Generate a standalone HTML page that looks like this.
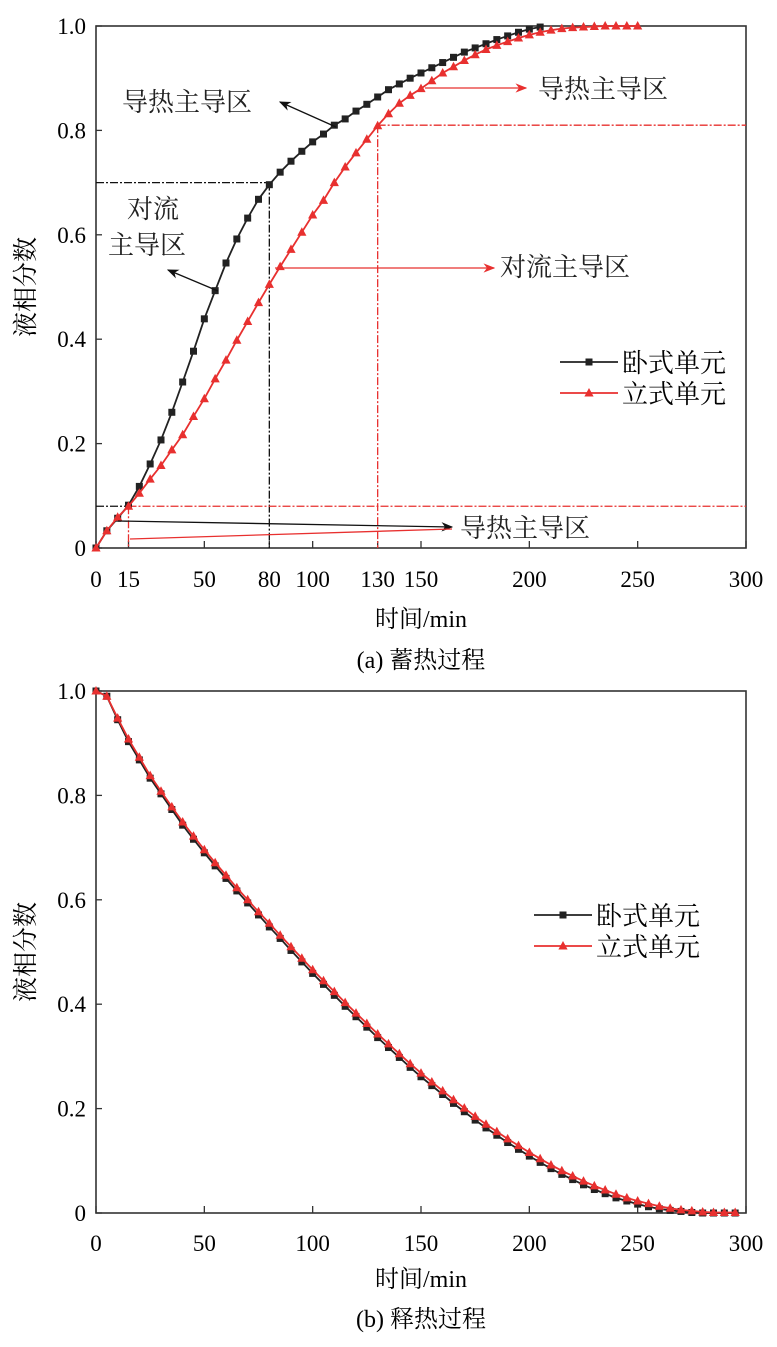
<!DOCTYPE html>
<html><head><meta charset="utf-8"><style>
html,body{margin:0;padding:0;background:#fff;}
svg{display:block;font-family:"Liberation Serif","Noto Serif CJK SC",serif;}
</style></head><body>
<svg id="fig" width="777" height="1347" viewBox="0 0 777 1347" xmlns="http://www.w3.org/2000/svg">
<defs>
<marker id="ak" viewBox="0 0 10 10" refX="9" refY="5" markerWidth="9" markerHeight="9" orient="auto-start-reverse"><path d="M0,1 L10,5 L0,9 L3,5 Z" fill="#111"/></marker>
<marker id="ar" viewBox="0 0 10 10" refX="9" refY="5" markerWidth="9" markerHeight="9" orient="auto-start-reverse"><path d="M0,1 L10,5 L0,9 L3,5 Z" fill="#e8302f"/></marker>
</defs>
<g id="pa"></g>
<g id="pb"></g>
</svg>
<script>
// ---- Chart (a) data ----
const aTimesH = [0,5,10,15,20,25,30,35,40,45,50,55,60,65,70,75,80,85,90,95,100,105,110,115,120,125,130,135,140,145,150,155,160,165,170,175,180,185,190,195,200,205];
const aHoriz = [0,0.033,0.057,0.082,0.118,0.161,0.207,0.26,0.318,0.377,0.439,0.493,0.546,0.592,0.632,0.668,0.696,0.72,0.741,0.76,0.778,0.793,0.81,0.822,0.837,0.85,0.864,0.878,0.889,0.90,0.91,0.92,0.93,0.94,0.95,0.958,0.966,0.974,0.981,0.988,0.994,0.998];
const aTimesV = [0,5,10,15,20,25,30,35,40,45,50,55,60,65,70,75,80,85,90,95,100,105,110,115,120,125,130,135,140,145,150,155,160,165,170,175,180,185,190,195,200,205,210,215,220,225,230,235,240,245,250];
const aVert = [0,0.033,0.059,0.08,0.105,0.132,0.158,0.188,0.217,0.252,0.286,0.324,0.36,0.398,0.434,0.47,0.505,0.539,0.572,0.605,0.638,0.666,0.7,0.73,0.757,0.783,0.809,0.832,0.852,0.867,0.88,0.895,0.91,0.922,0.934,0.945,0.955,0.963,0.97,0.977,0.983,0.988,0.992,0.995,0.997,0.998,0.999,1,1,1,1];
const aXTicks = [0,15,50,80,100,130,150,200,250,300];
const yTicks = [0,0.2,0.4,0.6,0.8,1.0];
const yTickLabels = ["0","0.2","0.4","0.6","0.8","1.0"];
// ---- Chart (b) data ----
const bTimes = [0,5,10,15,20,25,30,35,40,45,50,55,60,65,70,75,80,85,90,95,100,105,110,115,120,125,130,135,140,145,150,155,160,165,170,175,180,185,190,195,200,205,210,215,220,225,230,235,240,245,250,255,260,265,270,275,280,285,290,295];
const bHoriz = [1.0,0.99,0.945,0.903,0.868,0.833,0.803,0.773,0.743,0.716,0.69,0.665,0.641,0.617,0.594,0.571,0.548,0.526,0.503,0.481,0.459,0.438,0.417,0.396,0.376,0.356,0.336,0.317,0.298,0.279,0.261,0.244,0.227,0.21,0.194,0.178,0.163,0.149,0.135,0.122,0.109,0.097,0.085,0.074,0.064,0.054,0.045,0.037,0.029,0.023,0.017,0.012,0.008,0.005,0.003,0.001,0,0,0,0];
const bVert = [1.0,0.99,0.948,0.908,0.873,0.838,0.808,0.778,0.749,0.722,0.696,0.671,0.647,0.623,0.6,0.577,0.555,0.532,0.51,0.488,0.466,0.445,0.424,0.403,0.383,0.363,0.343,0.324,0.305,0.286,0.268,0.251,0.234,0.217,0.201,0.185,0.17,0.156,0.142,0.129,0.116,0.104,0.092,0.081,0.071,0.061,0.052,0.044,0.036,0.029,0.023,0.018,0.013,0.009,0.006,0.004,0.002,0.001,0.001,0.001];
const bXTicks = [0,50,100,150,200,250,300];

const NS="http://www.w3.org/2000/svg";
function mk(parent,tag,attrs,text){const e=document.createElementNS(NS,tag);for(const k in attrs)e.setAttribute(k,attrs[k]);if(text!==undefined)e.textContent=text;parent.appendChild(e);return e;}
const L=96,R=746;
function axes(g,top,bot,xticks,xlabelY,titleY,capY,cap){
  const sx=v=>L+(v/300)*(R-L), sy=v=>bot-v*(bot-top);
  const fr=mk(g,'rect',{x:L,y:top,width:R-L,height:bot-top,fill:'none',stroke:'#333','stroke-width':1.6});
  
  
  yTicks.forEach((t,i)=>{
    const ln=mk(g,'line',{x1:L,x2:L+6,y1:sy(t),y2:sy(t),stroke:'#333','stroke-width':1.3});
    
    
    const tx=mk(g,'text',{x:L-10,y:sy(t)+8,'text-anchor':'end','font-size':23},yTickLabels[i]);
    
    
  });
  xticks.forEach(t=>{
    const ln=mk(g,'line',{x1:sx(t),x2:sx(t),y1:bot,y2:bot-7,stroke:'#333','stroke-width':1.3});
    
    
    const tx=mk(g,'text',{x:sx(t),y:xlabelY,'text-anchor':'middle','font-size':23},String(t));
    
    
  });
  const xt=mk(g,'text',{x:421,y:titleY,'text-anchor':'middle','font-size':24},'时间/min');
  
  
  const yt=mk(g,'text',{x:0,y:0,'text-anchor':'middle','font-size':25,transform:`translate(34,${(top+bot)/2}) rotate(-90)`},'液相分数');
  
  
  const ct=mk(g,'text',{x:421,y:capY,'text-anchor':'middle','font-size':24},cap);
  
  
  return {sx,sy};
}
function series(g,xs,ys,sx,sy,color,shape,name){
  const sg=mk(g,'g',{});
  
  
  const pts=xs.map((x,i)=>sx(x)+','+sy(ys[i])).join(' ');
  const pl=mk(sg,'polyline',{points:pts,fill:'none',stroke:color,'stroke-width':1.8});
  
  
  xs.forEach((x,i)=>{
    const cx=sx(x),cy=sy(ys[i]);let m;
    if(shape==='sq') m=mk(sg,'rect',{x:cx-3.5,y:cy-3.5,width:7,height:7,fill:'#222'});
    else m=mk(sg,'polygon',{points:`${cx},${cy-5} ${cx-4.6},${cy+3.5} ${cx+4.6},${cy+3.5}`,fill:'#e8302f'});
    
    
  });
}
function legend(g,x,y){
  const items=[['卧式单元','#222','sq'],['立式单元','#e8302f','tri']];
  items.forEach((it,i)=>{
    const lg=mk(g,'g',{});
    
    
    const yy=y+i*31;
    mk(lg,'line',{x1:x,x2:x+58,y1:yy,y2:yy,stroke:it[1],'stroke-width':1.8});
    if(it[2]==='sq') mk(lg,'rect',{x:x+25.5,y:yy-3.5,width:7,height:7,fill:'#222'});
    else mk(lg,'polygon',{points:`${x+29},${yy-5} ${x+24.4},${yy+3.5} ${x+33.6},${yy+3.5}`,fill:'#e8302f'});
    mk(lg,'text',{x:x+62,y:yy+10,'font-size':26},it[0]);
  });
}
function txt(g,x,y,s,name,color){const t=mk(g,'text',{x:x,y:y,'font-size':26,fill:color||'#222'},s);return t;}
function line(g,x1,y1,x2,y2,color,dash,name,marker){const a={x1,y1,x2,y2,stroke:color,'stroke-width':1.3};if(dash)a['stroke-dasharray']=dash;if(marker)a['marker-end']=marker;const l=mk(g,'line',a);return l;}

// Chart A
const ga=document.getElementById('pa');
const A=axes(ga,26,548,aXTicks,587,627,668,'(a) 蓄热过程');
const DD='8,2,2,2';
line(ga,L,A.sy(0.70),A.sx(80),A.sy(0.70),'#111',DD,'ref-line-070');
line(ga,A.sx(80),A.sy(0.70),A.sx(80),548,'#111',DD,'ref-vline-80');
line(ga,L,A.sy(0.08),A.sx(15),A.sy(0.08),'#111',DD,'ref-line-008-black');
line(ga,A.sx(15),A.sy(0.08),R,A.sy(0.08),'#e8302f',DD,'ref-line-008-red');
line(ga,A.sx(15),A.sy(0.08),A.sx(15),548,'#e8302f',DD,'ref-vline-15');
line(ga,A.sx(130),A.sy(0.81),R,A.sy(0.81),'#e8302f',DD,'ref-line-081');
line(ga,A.sx(130),A.sy(0.81),A.sx(130),548,'#e8302f',DD,'ref-vline-130');
series(ga,aTimesH,aHoriz,A.sx,A.sy,'#222','sq','series-horizontal');
series(ga,aTimesV,aVert,A.sx,A.sy,'#e8302f','tri','series-vertical');
// annotations
line(ga,336,127,280,102,'#111',null,'arrow-conduction-black','url(#ak)');
txt(ga,122,111,'导热主导区','label-conduction-black');
txt(ga,127,218,'对流','label-convection-black-1');
txt(ga,108,254,'主导区','label-convection-black-2');
line(ga,218,291,168,270,'#111',null,'arrow-convection-black','url(#ak)');
line(ga,275,268,494,268,'#e8302f',null,'arrow-convection-red','url(#ar)');
txt(ga,500,276,'对流主导区','label-convection-red');
line(ga,425,88,526,88,'#e8302f',null,'arrow-conduction-red','url(#ar)');
txt(ga,538,98,'导热主导区','label-conduction-red');
line(ga,118,521,452,527,'#111',null,'arrow-conduction-bottom-black','url(#ak)');
line(ga,130,539,452,529,'#e8302f',null,'line-conduction-bottom-red');
txt(ga,460,537,'导热主导区','label-conduction-bottom');
legend(ga,560,362);

// Chart B
const gb=document.getElementById('pb');
const B=axes(gb,691,1213,bXTicks,1251,1287,1327,'(b) 释热过程');
series(gb,bTimes,bHoriz,B.sx,B.sy,'#222','sq','series-horizontal-b');
series(gb,bTimes,bVert,B.sx,B.sy,'#e8302f','tri','series-vertical-b');
legend(gb,534,915);
</script>
</body></html>
